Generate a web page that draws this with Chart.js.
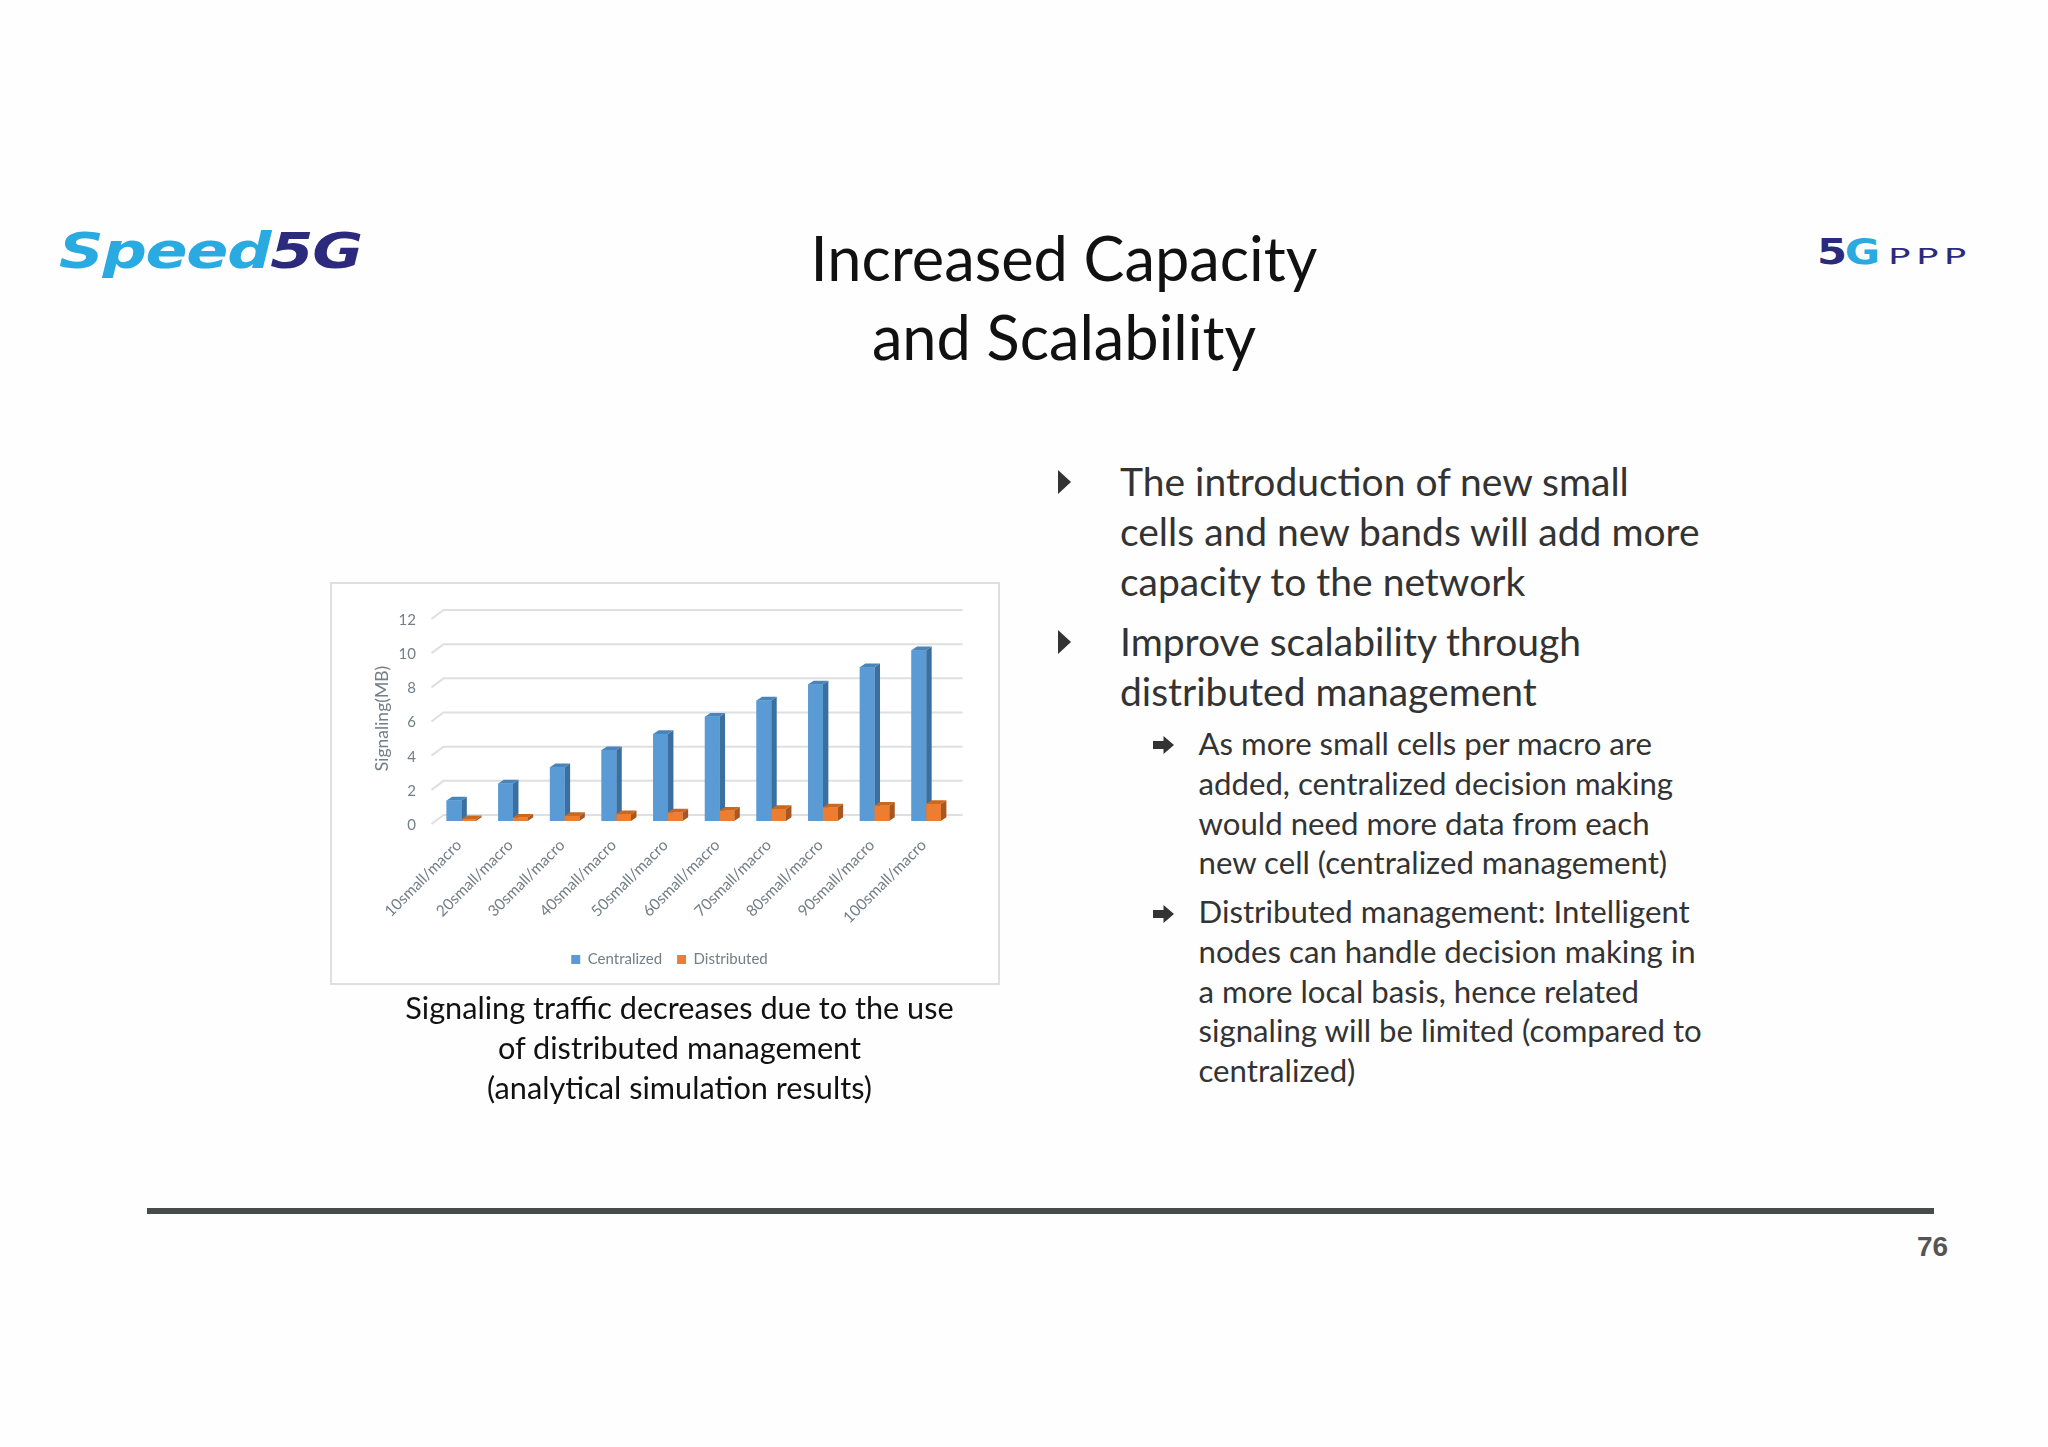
<!DOCTYPE html>
<html>
<head>
<meta charset="utf-8">
<title>Increased Capacity and Scalability</title>
<script src="https://cdn.jsdelivr.net/npm/chart.js@4/dist/chart.umd.min.js"></script>
<style>
  html, body { margin: 0; padding: 0; background: #fefefe; }
  #slide { position: relative; width: 2048px; height: 1447px; overflow: hidden; font-family: Lato, sans-serif; color: #333; }
  #slide div { position: absolute; white-space: nowrap; }
  .titulo { left: 0; width: 2128px; text-align: center; font-size: 61.3px; line-height: 79px; color: #111; }
  .cuerpo { left: 1120px; font-size: 39px; line-height: 50px; }
  .sub { left: 1198.5px; font-size: 31.2px; line-height: 39.8px; }
  .pie { left: 679.5px; transform: translateX(-50%); text-align: center; font-size: 30.7px; line-height: 40px; color: #111; }
  .tri { left: 1058px; width: 13px; height: 24px; background: #333; clip-path: polygon(0 0, 100% 50%, 0 100%); }
  .flecha { left: 1153px; width: 21px; height: 18px; background: #333; clip-path: polygon(0 28%, 50% 28%, 50% 0, 100% 50%, 50% 100%, 50% 72%, 0 72%); }
  #marco { left: 330px; top: 582px; width: 666px; height: 399px; border: 2px solid #dfdfdf; background: #fff; }
  canvas { position: absolute; left: 331px; top: 583px; filter: blur(0.5px); }
  #regla { left: 147px; top: 1208px; width: 1787px; height: 6px; background: #464b4b; }
  #pagina { left: 1917px; top: 1231px; font: bold 28px "Liberation Sans", sans-serif; color: #555; }
  #speed { left: 59px; top: 222px; font: italic bold 50px "DejaVu Sans", sans-serif; color: #29abe2; transform-origin: left top; transform: scaleX(1.24); letter-spacing: -1px; }
  #speed span { color: #2b2a7c; }
  #cincog { left: 1817px; top: 231px; font: bold 36px "DejaVu Sans", sans-serif; color: #2b2a7c; letter-spacing: -2px; transform-origin: left top; transform: scaleX(1.2); }
  #cincog span { color: #29abe2; }
  #ppp { left: 1888px; top: 245px; font: 21px "DejaVu Sans", sans-serif; color: #2b2a7c; letter-spacing: 3px; transform-origin: left top; transform: scaleX(1.78); }
</style>
</head>
<body>
<div id="slide">
  <div id="speed">Speed<span>5G</span></div>
  <div id="cincog">5<span>G</span></div>
  <div id="ppp">PPP</div>

  <div class="titulo" style="top:218px">Increased Capacity</div>
  <div class="titulo" style="top:297px">and Scalability</div>

  <div id="marco"></div>
  <canvas id="grafico" width="676" height="404"></canvas>

  <div class="pie" style="top:988px">Signaling traffic decreases due to the use<br>of distributed management<br>(analytical simulation results)</div>

  <div class="tri" style="top:470px"></div>
  <div class="cuerpo" style="top:456px">The introduction of new small<br>cells and new bands will add more<br>capacity to the network</div>
  <div class="tri" style="top:630px"></div>
  <div class="cuerpo" style="top:615.5px">Improve scalability through<br>distributed management</div>

  <div class="flecha" style="top:736px"></div>
  <div class="sub" style="top:724px">As more small cells per macro are<br>added, centralized decision making<br>would need more data from each<br>new cell (centralized management)</div>
  <div class="flecha" style="top:905px"></div>
  <div class="sub" style="top:892px">Distributed management: Intelligent<br>nodes can handle decision making in<br>a more local basis, hence related<br>signaling will be limited (compared to<br>centralized)</div>

  <div id="regla"></div>
  <div id="pagina">76</div>
</div>

<script>
// Datos
const categorias = ['10small/macro', '20small/macro', '30small/macro', '40small/macro', '50small/macro',
  '60small/macro', '70small/macro', '80small/macro', '90small/macro', '100small/macro'];
const centralizado = [1.2, 2.2, 3.15, 4.15, 5.1, 6.1, 7.05, 8.0, 9.0, 10.0];
const distribuido = [0.1, 0.2, 0.3, 0.4, 0.5, 0.6, 0.7, 0.8, 0.9, 1.0];
const marcasY = [0, 2, 4, 6, 8, 10, 12];

const COLOR_TEXTO = '#737e86';
const CARAS = [
  { lado: '#3b6f9f', arriba: '#4a84b8' },
  { lado: '#a9561f', arriba: '#c9681f' },
];

/** Pared del fondo: las líneas de la grilla van corridas para simular el 3D */
const paredFondo = {
  id: 'paredFondo',
  beforeDatasetsDraw(chart) {
    const { ctx, scales: { y }, chartArea } = chart;
    ctx.save();
    ctx.strokeStyle = '#dedfe3';
    ctx.lineWidth = 2;
    marcasY.forEach(valor => {
      const py = y.getPixelForValue(valor);
      ctx.beginPath();
      ctx.moveTo(chartArea.left - 4, py + 3);
      ctx.lineTo(chartArea.left + 8, py - 6);
      ctx.lineTo(chartArea.right + 10.5, py - 6);
      ctx.stroke();
    });
    ctx.restore();
  },
};

/** Caras lateral y superior de cada barra, dibujadas desde los elementos del gráfico */
const barras3d = {
  id: 'barras3d',
  // La leyenda va centrada en el marco, no en el área de las barras
  afterLayout(chart) {
    chart.legend.left += 28;
    chart.legend.right += 28;
  },
  afterDatasetsDraw(chart) {
    const { ctx } = chart;
    const dx = 5.5, dy = 3.7;
    categorias.forEach((_, i) => {
      chart.data.datasets.forEach((_ds, d) => {
        const barra = chart.getDatasetMeta(d).data[i];
        const der = barra.x + barra.width / 2;
        const izq = barra.x - barra.width / 2;
        ctx.fillStyle = CARAS[d].lado;
        ctx.beginPath();
        ctx.moveTo(der, barra.y);
        ctx.lineTo(der + dx, barra.y - dy);
        ctx.lineTo(der + dx, barra.base - dy);
        ctx.lineTo(der, barra.base);
        ctx.fill();
        ctx.fillStyle = CARAS[d].arriba;
        ctx.beginPath();
        ctx.moveTo(izq, barra.y);
        ctx.lineTo(izq + dx, barra.y - dy);
        ctx.lineTo(der + dx, barra.y - dy);
        ctx.lineTo(der, barra.y);
        ctx.fill();
        barra.draw(ctx);
      });
    });
  },
};

new Chart(document.getElementById('grafico'), {
  type: 'bar',
  data: {
    labels: categorias,
    datasets: [
      { label: 'Centralized', data: centralizado, backgroundColor: '#5b9bd5', borderWidth: 0 },
      { label: 'Distributed', data: distribuido, backgroundColor: '#ed7d31', borderWidth: 0 },
    ],
  },
  options: {
    responsive: false,
    animation: false,
    categoryPercentage: 0.57,
    barPercentage: 1,
    layout: { padding: { top: 33, right: 55, bottom: 10 } },
    plugins: {
      tooltip: { enabled: false },
      legend: {
        position: 'bottom',
        labels: { color: COLOR_TEXTO, font: { family: 'Lato', size: 15 }, boxWidth: 9, boxHeight: 9, padding: 15 },
      },
    },
    scales: {
      x: {
        grid: { display: false },
        border: { display: false },
        afterFit(escala) { escala.height = 116; },
        ticks: { color: COLOR_TEXTO, font: { family: 'Lato', size: 15.5 }, minRotation: 45, maxRotation: 45, padding: 7, labelOffset: -2.5 },
      },
      y: {
        min: 0,
        max: 12,
        grid: { display: false },
        border: { display: false },
        afterFit(escala) { escala.width = 104.5; },
        afterBuildTicks(escala) { escala.ticks = marcasY.map(value => ({ value })); },
        ticks: { color: COLOR_TEXTO, font: { family: 'Lato', size: 15 }, padding: 11.5, labelOffset: 4 },
        title: { display: true, text: 'Signaling(MB)', color: COLOR_TEXTO, font: { family: 'Lato', size: 17.5 }, padding: { top: 41 } },
      },
    },
  },
  plugins: [paredFondo, barras3d],
});
</script>
</body>
</html>
